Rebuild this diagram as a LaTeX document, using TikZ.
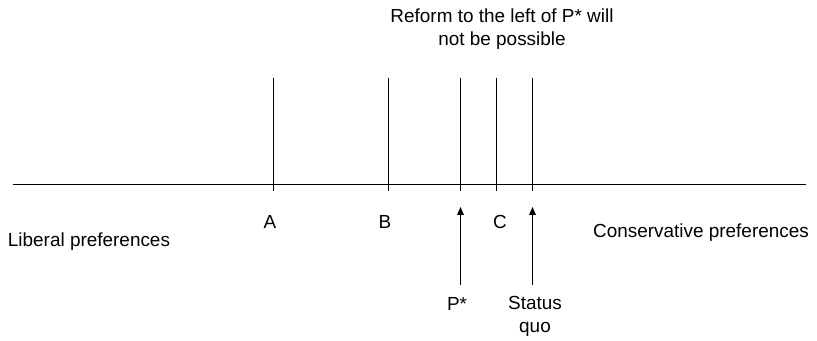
\documentclass[tikz,border=0pt]{standalone}
\usepackage{fontspec}
\setmainfont{Liberation Sans}
\usetikzlibrary{arrows.meta}

\begin{document}
\begin{tikzpicture}[
  x=0.75pt,y=0.75pt,
  font=\fontsize{14.2}{17.25}\selectfont,
  axisline/.style={draw=black,line width=0.75pt},
  cutmark/.style={draw=black,line width=0.75pt},
  pointer/.style={draw=black,line width=0.75pt,-{Triangle[length=6pt,width=5pt]}},
  tag/.style={text=black,inner sep=0pt,align=center}
]

% page frame in pixels of the reference (817 x 341)
\useasboundingbox (0,0) rectangle (817,341);

% policy axis
\coordinate (left end) at (13,156.5);
\coordinate (right end) at (806,156.5);
\draw[axisline] (left end) -- (right end);

% positions on the axis
\foreach \name/\xx in {a/273,b/388.5,pstar/460.5,c/496.5,sq/532.5}{
  \coordinate (\name top) at (\xx,263);
  \coordinate (\name bot) at (\xx,149.5);
  \draw[cutmark] (\name top) -- (\name bot);
}

\node[tag] (lbl a) at (270,119) {A};
\node[tag] (lbl b) at (385,119) {B};
\node[tag] (lbl c) at (500,119) {C};

\node[tag] (liberal) at (89,99) {Liberal preferences};
\node[tag] (conservative) at (701,108) {Conservative preferences};

\node[tag] (reform) at (502,311.5) {Reform to the left of P* will\\not be possible};

% pointers from below
\node[tag] (lbl pstar) at (457,37) {P*};
\node[tag] (lbl sq) at (535,25) {Status\\quo};
\coordinate (pstar base) at (460.5,56);
\coordinate (pstar tip) at (460.5,134);
\coordinate (sq base) at (532.5,56);
\coordinate (sq tip) at (532.5,134);
\draw[pointer] (pstar base) -- (pstar tip);
\draw[pointer] (sq base) -- (sq tip);

\end{tikzpicture}
\end{document}
